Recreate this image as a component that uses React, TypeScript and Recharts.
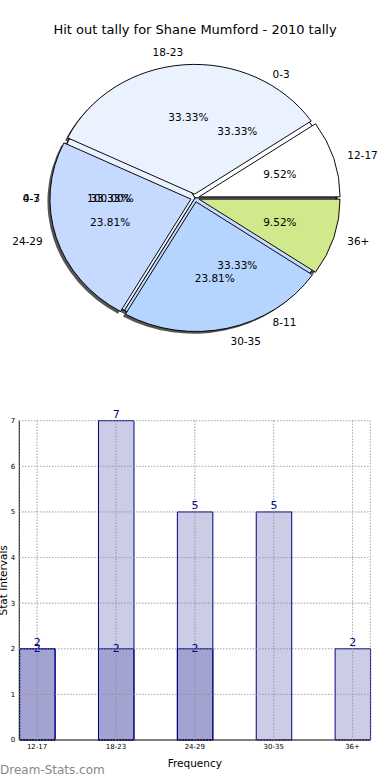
import {
  PieChart,
  Pie,
  Cell,
  BarChart,
  Bar,
  XAxis,
  YAxis,
  CartesianGrid,
  LabelList,
  Label,
} from "recharts";

const title = "Hit out tally for Shane Mumford - 2010 tally";

// the source drew three pies on top of each other
const wholeNames = ["0-3"];
const wholeValues = [1];
const earlyNames = ["0-3", "4-7", "8-11"];
const earlyValues = [1, 1, 1];
const intervalNames = ["12-17", "18-23", "24-29", "30-35", "36+"];
const intervalValues = [2, 7, 5, 5, 2];
const sliceColors = ["#ffffff", "#ebf2ff", "#c6d9ff", "#b5d5ff", "#d0ea8b"];

// bar chart
const barCategories = ["12-17", "18-23", "24-29", "30-35", "36+"];
const barTotals = [2, 7, 5, 5, 2];
const barInner = [2, 2, 2, null, null];
const yTicks = [0, 1, 2, 3, 4, 5, 6, 7];

const CX = 195;
const CY = 198;
const R = 141;
const SQUASH = 0.92;
const EXPLODE = 0.03 * R;
const SHADOW = 2.5;

const X_DOMAIN: [number, number] = [-0.225, 4.225];
const X_TICKS = [0, 1, 2, 3, 4];
const BAR_MARGIN = { top: 50.7, right: 19.7, bottom: 0, left: 0 };
const GRID = { stroke: "#a8a8a8", strokeDasharray: "1 2" };

const toData = (names: string[], values: number[]) =>
  names.map((name, i) => ({ name, value: values[i] }));

const wholeData = toData(wholeNames, wholeValues);
const earlyData = toData(earlyNames, earlyValues);
const intervalData = toData(intervalNames, intervalValues);

const intervalTotal = intervalValues.reduce((s, v) => s + v, 0);
const intervalMids = intervalValues.map(
  (v, i) =>
    ((intervalValues.slice(0, i).reduce((s, x) => s + x, 0) + v / 2) /
      intervalTotal) *
    360
);
const explodeShift = intervalMids.map((mid) => {
  const a = (mid * Math.PI) / 180;
  return { dx: EXPLODE * Math.cos(a), dy: -EXPLODE * Math.sin(a) };
});

const barData = barCategories.map((c, i) => ({
  x: i,
  total: barTotals[i],
  inner: barInner[i],
}));

const pieLabel = (explode: number) => (props: any) => {
  const a = (props.midAngle * Math.PI) / 180;
  const cos = Math.cos(a);
  const sin = Math.sin(a);
  const outer = explode + R * 1.1;
  const inner = explode + R * 0.6;
  return (
    <g>
      <text
        x={CX + outer * cos}
        y={CY - outer * SQUASH * sin}
        textAnchor={cos > 0 ? "start" : "end"}
        dominantBaseline="central"
        fontSize={10.5}
        fill="#000"
      >
        {props.name}
      </text>
      <text
        x={CX + inner * cos}
        y={CY - inner * SQUASH * sin}
        textAnchor="middle"
        dominantBaseline="central"
        fontSize={10.5}
        fill="#000"
      >
        {(props.percent * 100).toFixed(2)}%
      </text>
    </g>
  );
};

function HitOutPie() {
  return (
    <PieChart width={390} height={370} margin={{ top: 0, right: 0, bottom: 0, left: 0 }}>
      {/* shadows go under everything */}
      <Pie
        className="squash"
        data={wholeData}
        dataKey="value"
        cx={CX - SHADOW}
        cy={CY + SHADOW}
        outerRadius={R}
        fill="#555"
        stroke="none"
        isAnimationActive={false}
      />
      {explodeShift.map((s, j) => (
        <Pie
          key={"s" + j}
          className="squash"
          data={intervalData}
          dataKey="value"
          cx={CX + s.dx - SHADOW}
          cy={CY + s.dy + SHADOW}
          outerRadius={R}
          isAnimationActive={false}
        >
          {intervalData.map((d, i) => (
            <Cell key={d.name} fill={i === j ? "#555" : "none"} stroke="none" />
          ))}
        </Pie>
      ))}
      <Pie
        className="squash"
        data={wholeData}
        dataKey="value"
        cx={CX}
        cy={CY}
        outerRadius={R}
        fill="#fff"
        stroke="#000"
        isAnimationActive={false}
      />
      <Pie
        className="squash"
        data={earlyData}
        dataKey="value"
        cx={CX}
        cy={CY}
        outerRadius={R}
        stroke="#000"
        isAnimationActive={false}
      >
        {earlyData.map((d, i) => (
          <Cell key={d.name} fill={sliceColors[i]} />
        ))}
      </Pie>
      {explodeShift.map((s, j) => (
        <Pie
          key={"w" + j}
          className="squash"
          data={intervalData}
          dataKey="value"
          cx={CX + s.dx}
          cy={CY + s.dy}
          outerRadius={R}
          isAnimationActive={false}
        >
          {intervalData.map((d, i) => (
            <Cell
              key={d.name}
              fill={i === j ? sliceColors[i] : "none"}
              stroke={i === j ? "#000" : "none"}
            />
          ))}
        </Pie>
      ))}
      <Pie
        data={wholeData}
        dataKey="value"
        cx={CX}
        cy={CY}
        outerRadius={R}
        fill="none"
        stroke="none"
        labelLine={false}
        label={pieLabel(0)}
        isAnimationActive={false}
      />
      <Pie
        data={earlyData}
        dataKey="value"
        cx={CX}
        cy={CY}
        outerRadius={R}
        fill="none"
        stroke="none"
        labelLine={false}
        label={pieLabel(0)}
        isAnimationActive={false}
      />
      <Pie
        data={intervalData}
        dataKey="value"
        cx={CX}
        cy={CY}
        outerRadius={R}
        fill="none"
        stroke="none"
        labelLine={false}
        label={pieLabel(EXPLODE)}
        isAnimationActive={false}
      />
    </PieChart>
  );
}

function HitOutBars() {
  const barSize = (0.45 / 4.45) * 351;
  return (
    <BarChart width={390} height={410} data={barData} margin={BAR_MARGIN}>
      <CartesianGrid {...GRID} />
      <XAxis
        dataKey="x"
        type="number"
        domain={X_DOMAIN}
        ticks={X_TICKS}
        tickFormatter={(v) => barCategories[v]}
        interval={0}
        height={40}
        axisLine={{ stroke: "#000" }}
        tickLine={false}
        tickSize={3}
        tickMargin={1}
        tick={{ fontSize: 7, fill: "#000" }}
      >
        <Label
          value="Frequency"
          position="insideBottom"
          offset={13}
          style={{ fontSize: 10.5, fill: "#000" }}
        />
      </XAxis>
      <XAxis
        xAxisId="top"
        orientation="top"
        dataKey="x"
        type="number"
        domain={X_DOMAIN}
        ticks={X_TICKS}
        height={0}
        tick={false}
        tickLine={false}
        axisLine={{ stroke: "#000" }}
      />
      <YAxis
        domain={[0, 7]}
        ticks={yTicks}
        interval={0}
        width={19.3}
        axisLine={{ stroke: "#000" }}
        tickLine={false}
        tickSize={3}
        tickMargin={1}
        tick={{ fontSize: 7, fill: "#000" }}
      >
        <Label
          content={(p: any) => {
            const vb = p.viewBox;
            const x = 7.5;
            const y = vb.y + vb.height / 2;
            return (
              <text
                x={x}
                y={y}
                transform={`rotate(-90 ${x} ${y})`}
                textAnchor="middle"
                fontSize={10.5}
                fill="#000"
              >
                Stat Intervals
              </text>
            );
          }}
        />
      </YAxis>
      <YAxis
        yAxisId="right"
        orientation="right"
        domain={[0, 7]}
        width={0}
        tick={false}
        tickLine={false}
        axisLine={{ stroke: "#000" }}
      />
      <Bar
        dataKey="total"
        fill="#000080"
        fillOpacity={0.2}
        stroke="#000080"
        barSize={barSize}
        isAnimationActive={false}
      >
        <LabelList dataKey="total" position="top" offset={3} fill="#000080" fontSize={11} />
      </Bar>
      <Bar
        xAxisId="top"
        dataKey="inner"
        fill="#000080"
        fillOpacity={0.2}
        stroke="#000080"
        barSize={barSize}
        isAnimationActive={false}
      >
        <LabelList dataKey="inner" position="top" offset={-3} fill="#000080" fontSize={11} />
      </Bar>
    </BarChart>
  );
}

const noTick = () => <g />;

// matplotlib drew the dotted grid over the bars, so it is repeated in a chart on top
function GridOverlay() {
  return (
    <BarChart width={390} height={410} data={barData} margin={BAR_MARGIN}>
      <XAxis
        dataKey="x"
        type="number"
        domain={X_DOMAIN}
        ticks={X_TICKS}
        interval={0}
        height={40}
        axisLine={false}
        tickLine={false}
        tick={noTick}
      />
      <YAxis
        domain={[0, 7]}
        ticks={yTicks}
        interval={0}
        width={19.3}
        axisLine={false}
        tickLine={false}
        tick={noTick}
      />
      <Bar dataKey="total" fill="none" stroke="none" barSize={1} isAnimationActive={false} />
      <CartesianGrid {...GRID} />
    </BarChart>
  );
}

export default function App() {
  return (
    <div
      style={{
        position: "absolute",
        left: 0,
        top: 0,
        width: 390,
        height: 780,
        background: "#fff",
        fontFamily: "'DejaVu Sans', sans-serif",
        overflow: "hidden",
      }}
    >
      <style>{`.recharts-pie.squash { transform: scaleY(${SQUASH}); transform-origin: ${CX}px ${CY}px; }`}</style>
      <div
        style={{
          position: "absolute",
          top: 22,
          width: 390,
          textAlign: "center",
          fontSize: 13,
          lineHeight: "16px",
        }}
      >
        {title}
      </div>
      <div style={{ position: "absolute", top: 0, left: 0 }}>
        <HitOutPie />
      </div>
      <div style={{ position: "absolute", top: 370, left: 0 }}>
        <HitOutBars />
      </div>
      <div style={{ position: "absolute", top: 370, left: 0, pointerEvents: "none" }}>
        <GridOverlay />
      </div>
      <div
        style={{
          position: "absolute",
          left: 0,
          top: 762,
          fontSize: 12,
          lineHeight: "16px",
          color: "#888",
        }}
      >
        Dream-Stats.com
      </div>
    </div>
  );
}
